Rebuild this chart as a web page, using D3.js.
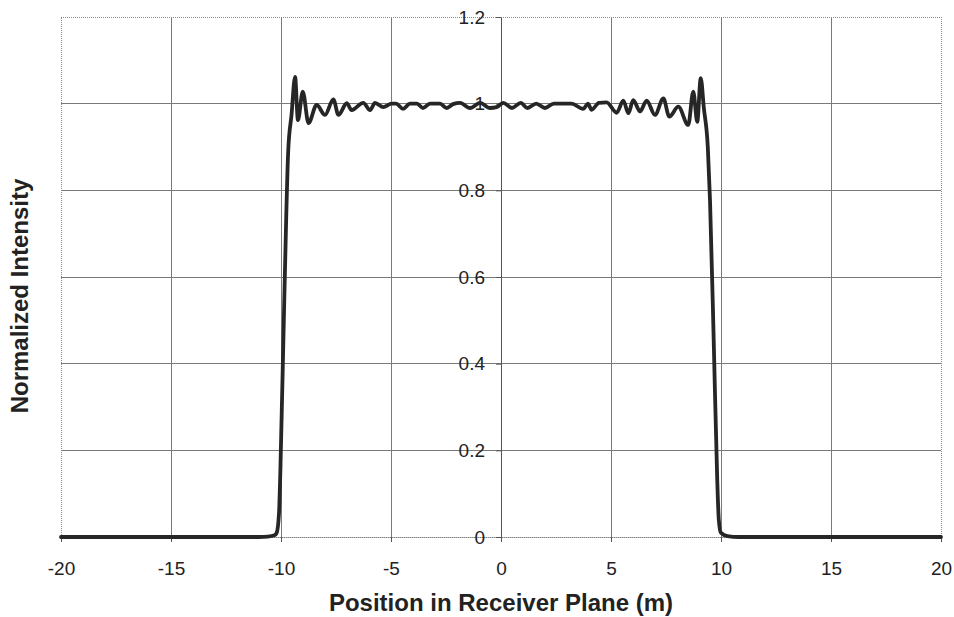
<!DOCTYPE html>
<html>
<head>
<meta charset="utf-8">
<script src="https://cdn.jsdelivr.net/npm/d3@7"></script>
<style>
  html, body { margin: 0; padding: 0; background: #fff; }
  svg { display: block; font-family: "Liberation Sans", Arial, Helvetica, sans-serif; }
</style>
</head>
<body>
<svg id="chart" width="954" height="617"></svg>
<script>
// Beam profile across the receiver plane (position in m, normalized intensity)
const positions = [
  -20, -15, -11, -10.6, -10.3, -10.2, -10.09, -10.03, -9.85, -9.67, -9.52,
  -9.36, -9.23, -9.01, -8.75, -8.38, -8.0, -7.62, -7.39, -7.01, -6.79,
  -6.26, -5.95, -5.73, -5.35, -4.97, -4.77, -4.45, -4.14, -3.82, -3.55,
  -3.23, -2.77, -2.47, -2.18, -1.86, -1.41, -0.95, -0.5, -0.2, 0.1,
  0.5, 0.9, 1.2, 1.6, 2.0, 2.4, 2.8, 3.2, 3.74, 3.95,
  4.12, 4.45, 4.8, 5.26, 5.56, 5.79, 6.01, 6.32, 6.62, 7.0,
  7.38, 7.65, 8.06, 8.51, 8.74, 8.92, 9.08, 9.22, 9.4, 9.5,
  9.68, 9.83, 9.9, 9.99, 10.3, 10.8, 15, 20
];
const intensity = [
  0, 0, 0, 0.001, 0.004, 0.009, 0.055, 0.15, 0.55, 0.893, 0.975,
  1.062, 0.962, 1.028, 0.955, 0.997, 0.974, 1.010, 0.974, 1.001, 0.985,
  1.002, 0.985, 1.002, 0.992, 1.0, 1.0, 0.988, 1.0, 1.0, 0.99,
  1.0, 1.0, 0.99, 0.999, 1.002, 0.99, 1.002, 0.99, 0.992, 1.002,
  0.99, 1.002, 0.99, 1.0, 0.99, 1.0, 1.0, 1.0, 0.988, 1.0,
  0.986, 1.002, 1.003, 0.979, 1.007, 0.978, 1.008, 0.982, 1.007, 0.974,
  1.012, 0.970, 0.993, 0.951, 1.028, 0.958, 1.059, 0.99, 0.9, 0.778,
  0.43, 0.13, 0.04, 0.01, 0.002, 0, 0, 0
];

const xTicks = [-20, -15, -10, -5, 0, 5, 10, 15, 20];
const xTickLabels = ["-20", "-15", "-10", "-5", "0", "5", "10", "15", "20"];
const yTicks = [0, 0.2, 0.4, 0.6, 0.8, 1.0, 1.2];
const yTickLabels = ["0", "0.2", "0.4", "0.6", "0.8", "1", "1.2"];

const xTitle = "Position in Receiver Plane (m)";
const yTitle = "Normalized Intensity";

const svg = d3.select("#chart");
const margin = { top: 17, right: 13, bottom: 80, left: 61 };
const W = 954, H = 617;
const iw = W - margin.left - margin.right;
const ih = H - margin.top - margin.bottom;

const x = d3.scaleLinear().domain([-20, 20]).range([0, iw]);
const y = d3.scaleLinear().domain([0, 1.2]).range([ih, 0]);

const g = svg.append("g").attr("transform", `translate(${margin.left},${margin.top})`);

// grid
g.append("g").selectAll("line.h")
  .data(yTicks.filter(v => v > 0 && v < 1.2))
  .join("line")
  .attr("x1", 0).attr("x2", iw)
  .attr("y1", d => y(d)).attr("y2", d => y(d))
  .attr("stroke", "#7a7a7a").attr("stroke-width", 1).attr("shape-rendering", "crispEdges");

g.append("g").selectAll("line.v")
  .data(xTicks.filter(v => v !== -20 && v !== 20 && v !== 0))
  .join("line")
  .attr("x1", d => x(d)).attr("x2", d => x(d))
  .attr("y1", 0).attr("y2", ih)
  .attr("stroke", "#7a7a7a").attr("stroke-width", 1).attr("shape-rendering", "crispEdges");

// plot frame
g.append("rect")
  .attr("x", 0).attr("y", 0).attr("width", iw).attr("height", ih)
  .attr("fill", "none").attr("stroke", "#8a8a8a").attr("stroke-width", 1)
  .attr("stroke-dasharray", "1,1").attr("shape-rendering", "crispEdges");

// x axis
const xAxis = d3.axisBottom(x)
  .tickValues(xTicks)
  .tickFormat((d, i) => xTickLabels[i])
  .tickSizeInner(5).tickSizeOuter(0).tickPadding(20);
const gx = g.append("g").attr("transform", `translate(0,${ih})`).call(xAxis);
gx.select(".domain").attr("stroke", "#777").attr("stroke-dasharray", "1,1");
gx.selectAll(".tick line").attr("stroke", "#555");
gx.selectAll(".tick text").attr("font-size", 19).attr("fill", "#222")
  .attr("font-family", "'Liberation Sans', Arial, sans-serif");

// y axis through x = 0
const yAxis = d3.axisLeft(y)
  .tickValues(yTicks)
  .tickFormat((d, i) => yTickLabels[i])
  .tickSizeInner(5).tickSizeOuter(0).tickPadding(11);
const gy = g.append("g").attr("transform", `translate(${x(0)},0)`).call(yAxis);
gy.select(".domain").attr("stroke", "#555");
gy.selectAll(".tick line").attr("stroke", "#555");
gy.selectAll(".tick text").attr("font-size", 19).attr("fill", "#222")
  .attr("font-family", "'Liberation Sans', Arial, sans-serif");

// intensity profile
const pts = positions.map((p, i) => [p, intensity[i]]);
const line = d3.line()
  .x(d => x(d[0]))
  .y(d => y(d[1]))
  .curve(d3.curveMonotoneX);
g.append("path")
  .datum(pts)
  .attr("d", line)
  .attr("fill", "none")
  .attr("stroke", "#262626")
  .attr("stroke-width", 3.8)
  .attr("stroke-linejoin", "round")
  .attr("stroke-linecap", "round");

// titles
svg.append("text")
  .attr("x", margin.left + x(0)).attr("y", 611)
  .attr("text-anchor", "middle")
  .attr("font-size", 24).attr("font-weight", "bold").attr("fill", "#222")
  .text(xTitle);

svg.append("text")
  .attr("transform", `translate(28,${margin.top + ih / 2 + 19}) rotate(-90)`)
  .attr("text-anchor", "middle")
  .attr("font-size", 24).attr("font-weight", "bold").attr("fill", "#222")
  .text(yTitle);
</script>
</body>
</html>
